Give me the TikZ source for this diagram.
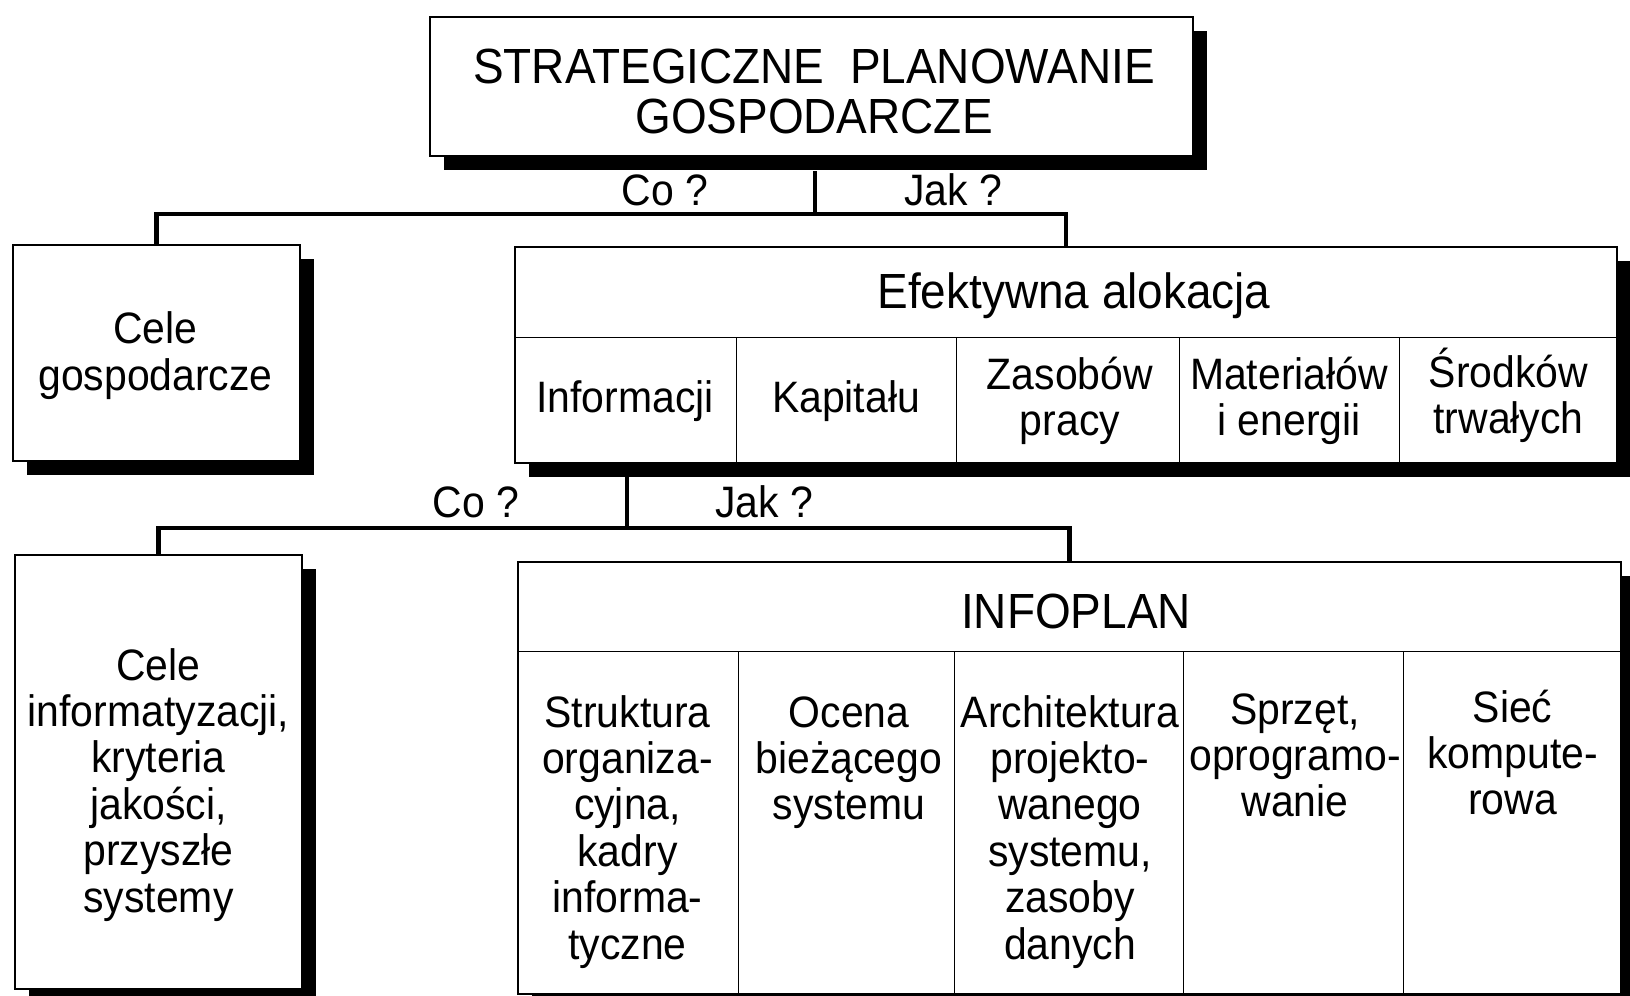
\documentclass[tikz,border=0pt]{standalone}
\usepackage{fontspec}
\setmainfont{Liberation Sans}[FakeStretch=0.93]
\usetikzlibrary{shadows}
\newcommand\bodysize{\fontsize{22}{23.2}\selectfont}
\newcommand\headsize{\fontsize{24.7}{25}\selectfont}
\tikzset{
  boxshadow/.style={drop shadow={shadow xshift=7pt, shadow yshift=-7pt, fill=black, opacity=1}},
  frame/.style={draw, line width=1pt, fill=white, inner sep=0pt, anchor=north west, boxshadow},
  cell/.style={draw, line width=0.7pt, inner sep=0pt, anchor=north west},
  % text nodes are placed by the baseline of their last line
  txt/.style={font=\bodysize, align=center, inner sep=0pt, anchor=base},
  headtxt/.style={font=\headsize, align=center, inner sep=0pt, anchor=base},
  conn/.style={line width=2.4pt, line join=miter, line cap=rect}
}
\begin{document}
\begin{tikzpicture}[x=0.5pt, y=-0.5pt]
\useasboundingbox (0,0) rectangle (1630,996);
\clip (0,0) rectangle (1630,996);
\fill[white] (0,0) rectangle (1630,996);

% main planning box
\node[frame, minimum width=381.5pt, minimum height=69.5pt] (top) at (429,16) {};
\node[headtxt] (toptxt) at (814,133) {STRATEGICZNE~~PLANOWANIE\\GOSPODARCZE};

% first level: economic goals and allocation
\node[frame, minimum width=143.5pt, minimum height=108pt] (cele1) at (12,244) {};
\node[txt] (cele1txt) at (155.5,390) {Cele\\gospodarcze};

\node[frame, minimum width=551pt, minimum height=108pt] (alok) at (514,246) {};
\node[cell, minimum width=551pt, minimum height=45.5pt] (alokhead) at (514,246) {};
\node[headtxt] (aloktxt) at (1074,308) {Efektywna alokacja};
\node[cell, minimum width=111pt, minimum height=62.5pt] (a1) at (514,337) {};
\node[cell, minimum width=110pt, minimum height=62.5pt] (a2) at (736,337) {};
\node[cell, minimum width=111.5pt, minimum height=62.5pt] (a3) at (956,337) {};
\node[cell, minimum width=110pt, minimum height=62.5pt] (a4) at (1179,337) {};
\node[cell, minimum width=108.5pt, minimum height=62.5pt] (a5) at (1399,337) {};
\node[txt] (a1txt) at (625,412) {Informacji};
\node[txt] (a2txt) at (846,412) {Kapitału};
\node[txt] (a3txt) at (1070,435.4) {Zasobów\\pracy};
\node[txt] (a4txt) at (1289,435.4) {Materiałów\\i energii};
\node[txt] (a5txt) at (1508.5,433.4) {Środków\\trwałych};

% second level: IT goals and the INFOPLAN
\node[frame, minimum width=143.5pt, minimum height=217pt] (cele2) at (14,554) {};
\node[txt] (cele2txt) at (158.5,912) {Cele\\informatyzacji,\\kryteria\\jakości,\\przyszłe\\systemy};

\node[frame, minimum width=551.5pt, minimum height=216pt] (info) at (517,561) {};
\node[cell, minimum width=551.5pt, minimum height=45pt] (infohead) at (517,561) {};
\node[headtxt] (infotxt) at (1076,628) {INFOPLAN};
\node[cell, minimum width=110.5pt, minimum height=171pt] (b1) at (517,651) {};
\node[cell, minimum width=108pt, minimum height=171pt] (b2) at (738,651) {};
\node[cell, minimum width=114.5pt, minimum height=171pt] (b3) at (954,651) {};
\node[cell, minimum width=110pt, minimum height=171pt] (b4) at (1183,651) {};
\node[cell, minimum width=108.5pt, minimum height=171pt] (b5) at (1403,651) {};
\node[txt] (b1txt) at (627.5,959) {Struktura\\organiza-\\cyjna,\\kadry\\informa-\\tyczne};
\node[txt] (b2txt) at (849,819.8) {Ocena\\bieżącego\\systemu};
\node[txt] (b3txt) at (1070,959) {Architektura\\projekto-\\wanego\\systemu,\\zasoby\\danych};
\node[txt] (b4txt) at (1295,816.8) {Sprzęt,\\oprogramo-\\wanie};
\node[txt] (b5txt) at (1512.5,814.8) {Sieć\\kompute-\\rowa};

% branching connectors
\coordinate (s1) at (815,173);
\coordinate (j1) at (815,214);
\draw[conn] (s1) -- (j1);
\draw[conn] (cele1.north) -- (cele1.north |- j1) -- (alok.north |- j1) -- (alok.north);
\node[txt] (co1) at (665,205) {Co ?};
\node[txt] (jak1) at (953,205) {Jak ?};

\coordinate (s2) at (627,479);
\coordinate (j2) at (627,528);
\draw[conn] (s2) -- (j2);
\draw[conn] (cele2.north) -- (cele2.north |- j2) -- (info.north |- j2) -- (info.north);
\node[txt] (co2) at (476,517) {Co ?};
\node[txt] (jak2) at (764,517) {Jak ?};
\end{tikzpicture}
\end{document}
